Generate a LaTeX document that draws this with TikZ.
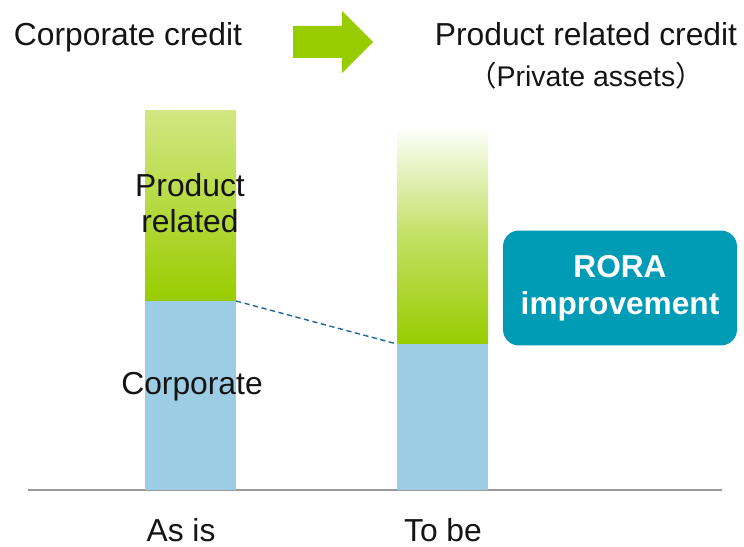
\documentclass[tikz,border=0pt]{standalone}
\usepackage{fontspec}
\setmainfont{Liberation Sans}
\newfontfamily\cjkfont{Noto Sans CJK JP}
\definecolor{leaf}{RGB}{153,204,0}
\definecolor{paleleaf}{RGB}{210,231,130}
\definecolor{sky}{RGB}{157,205,228}
\definecolor{roraBlue}{RGB}{0,155,180}
\definecolor{ink}{RGB}{20,20,20}
\definecolor{dashBlue}{RGB}{31,105,150}

\begin{document}
\begin{tikzpicture}[x=0.02cm, y=-0.02cm,
    label/.style={text=ink, font=\fontsize{18.1}{20.5}\selectfont, inner sep=0pt, align=center},
    rora/.style={fill=roraBlue, text=white, rounded corners=0.32cm, align=center,
        minimum width=4.68cm, minimum height=2.3cm, inner sep=0pt,
        font=\fontsize{18}{21}\selectfont\bfseries}]
    \useasboundingbox (0,0) rectangle (744,547);
    \draw[gray!80, line width=0.7pt] (28,490) -- (722,490);
    \shade[top color=paleleaf, bottom color=leaf] (145,111) rectangle (236,301);
    \fill[sky] (145,301) rectangle (236,490);
    \shade[top color=white, bottom color=leaf, middle color=leaf!60] (397,125) rectangle (488,344);
    \fill[sky] (397,344) rectangle (488,490);
    \coordinate (asis top) at (236,301);
    \coordinate (tobe top) at (397,344);
    \draw[dashBlue, line width=0.8pt, dash pattern=on 3pt off 2pt] (asis top) -- (tobe top);
    \fill[leaf] (293,26) -- (342,26) -- (342,11) -- (373,42) -- (342,73) -- (342,58) -- (293,58) -- cycle;
    \node[label, anchor=base] (corp credit) at (128,46) {Corporate credit};
    \node[label, anchor=base] (prod credit) at (586,46) {Product related credit};
    \node[label, anchor=base, font=\fontsize{16.2}{18}\selectfont] (private) at (586,87) {{\cjkfont （}Private assets{\cjkfont ）}};
    \node[label] (prod part) at (190,203) {Product\\related};
    \node[label] (corp part) at (192,387) {Corporate};
    \node[rora] (rora) at (620,288) {RORA\\improvement};
    \node[label, anchor=base] (as is) at (181,541) {As is};
    \node[label, anchor=base] (to be) at (443,541) {To be};
\end{tikzpicture}
\end{document}
